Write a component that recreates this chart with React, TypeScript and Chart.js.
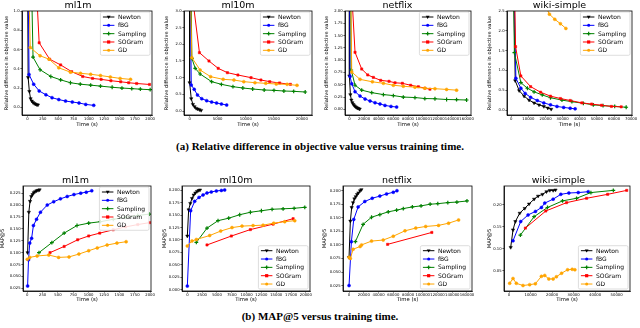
import React, { useEffect, useRef } from 'react';
import { Chart, registerables } from 'chart.js';
Chart.register(...registerables);

// ---------- series ----------
const seriesNames = ['Newton', 'fBG', 'Sampling', 'SOGram', 'GD'];
const seriesColors = ['#000000', '#0000ff', '#008000', '#ff0000', '#ffa500'];

// ---------- (a) relative difference in objective value ----------
const objMl1mNewton = [[0, 1.6], [10, 0.31], [30, 0.165], [50, 0.09], [70, 0.065], [90, 0.05], [110, 0.04], [130, 0.033], [150, 0.028], [170, 0.025]];
const objMl1mFbg = [[0, 2.0], [25, 0.34], [100, 0.24], [190, 0.17], [300, 0.13], [400, 0.1], [510, 0.08], [620, 0.065], [730, 0.055], [840, 0.045], [950, 0.03], [1080, 0.02]];
const objMl1mSampling = [[55, 1.6], [90, 0.52], [205, 0.39], [380, 0.32], [540, 0.285], [700, 0.255], [860, 0.24], [1030, 0.23], [1190, 0.22], [1380, 0.208], [1540, 0.2], [1700, 0.194], [1840, 0.188], [2000, 0.183]];
const objMl1mSogram = [[85, 2.0], [190, 0.67], [360, 0.5], [540, 0.44], [720, 0.37], [900, 0.32], [1060, 0.3], [1200, 0.29], [1360, 0.276], [1520, 0.265], [1650, 0.255], [1780, 0.247], [1990, 0.237]];
const objMl1mGd = [[10, 1.5], [45, 0.62], [205, 0.535], [350, 0.5], [510, 0.41], [700, 0.365], [865, 0.353], [1030, 0.343], [1190, 0.33], [1350, 0.315], [1510, 0.3], [1680, 0.29]];

const objMl10mNewton = [[0, 6], [0, 0.85], [290, 0.37], [585, 0.2], [880, 0.13], [1170, 0.08], [1460, 0.06], [1750, 0.04], [2050, 0.02]];
const objMl10mFbg = [[0, 6], [290, 0.78], [820, 0.65], [1400, 0.48], [2160, 0.37], [3040, 0.31], [3920, 0.27], [4800, 0.24], [5670, 0.21], [6600, 0.18]];
const objMl10mSampling = [[100, 6], [400, 1.58], [1000, 1.28], [1870, 1.11], [3920, 0.88], [5670, 0.8], [7720, 0.73], [9480, 0.69], [11230, 0.66], [13280, 0.63], [15030, 0.62], [16790, 0.6], [18540, 0.59], [20590, 0.57]];
const objMl10mSogram = [[600, 3.3], [1750, 1.75], [3450, 1.5], [5090, 1.28], [6730, 1.15], [8600, 1.08], [10940, 1.0], [12700, 0.93], [14270, 0.88], [16030, 0.84], [17960, 0.8]];
const objMl10mGd = [[150, 3.5], [400, 1.6], [1870, 1.23], [3740, 1.03], [5970, 0.95], [7900, 0.93], [9650, 0.88], [11640, 0.85], [13570, 0.83], [15440, 0.81], [17370, 0.8], [19130, 0.77]];

const objNetflixNewton = [[0, 5], [0, 0.68], [1360, 0.3], [2700, 0.19], [4090, 0.135], [5450, 0.1], [6800, 0.074], [8180, 0.054], [9500, 0.04], [10900, 0.027], [12300, 0.02], [14100, 0.007]];
const objNetflixFbg = [[0, 5], [900, 0.67], [3200, 0.52], [7700, 0.36], [14500, 0.27], [21400, 0.21], [28200, 0.17], [35000, 0.135], [41800, 0.11], [48600, 0.08], [56800, 0.06], [64500, 0.047]];
const objNetflixSampling = [[800, 5], [2500, 0.8], [7700, 0.49], [16800, 0.39], [30500, 0.34], [46400, 0.3], [60000, 0.28], [73600, 0.25], [89500, 0.24], [103000, 0.22], [116800, 0.215], [132700, 0.2], [146300, 0.196], [160000, 0.19]];
const objNetflixSogram = [[800, 3.0], [7700, 1.16], [16800, 0.82], [25000, 0.7], [32700, 0.65], [42700, 0.59], [54100, 0.57], [62300, 0.54], [72300, 0.53], [83600, 0.49], [94100, 0.46], [103200, 0.43], [110000, 0.41]];
const objNetflixGd = [[500, 4], [3200, 0.76], [14500, 0.61], [31400, 0.56], [46400, 0.53], [60000, 0.49], [73600, 0.47], [89500, 0.45], [103000, 0.43], [116800, 0.42], [132700, 0.405], [146300, 0.39]];

const objWikiNewton = [[300, 6], [2300, 0.74], [4600, 0.49], [7500, 0.35], [10400, 0.25], [13300, 0.18], [16200, 0.13], [19000, 0.09], [21300, 0.05], [23300, 0.02]];
const objWikiFbg = [[200, 6], [2700, 0.8], [5600, 0.55], [8100, 0.42], [11300, 0.32], [15200, 0.24], [19000, 0.18], [22900, 0.13], [26700, 0.09], [30600, 0.065], [34400, 0.045], [37300, 0.03]];
const objWikiSampling = [[500, 6], [1800, 1.45], [5600, 0.69], [9400, 0.55], [13300, 0.46], [18100, 0.38], [22900, 0.31], [29600, 0.25], [35400, 0.21], [42100, 0.17], [47900, 0.13], [53600, 0.11], [60400, 0.09], [67100, 0.07]];
const objWikiSogram = [[800, 6], [2500, 1.6], [5600, 0.86], [11300, 0.59], [17100, 0.45], [22900, 0.35], [28700, 0.29], [34400, 0.24], [41200, 0.18], [46900, 0.15], [52700, 0.12], [58500, 0.09], [64200, 0.08]];
const objWikiGd = [[19000, 2.7], [22300, 2.42], [25400, 2.29], [28700, 2.18], [31900, 2.06]];

// ---------- (b) MAP@5 ----------
const mapMl1mNewton = [[5, 0.1], [25, 0.185], [45, 0.208], [65, 0.218], [85, 0.222], [105, 0.226], [125, 0.228], [150, 0.23], [175, 0.231], [200, 0.232]];
const mapMl1mFbg = [[5, 0.03], [20, 0.085], [40, 0.12], [70, 0.13], [100, 0.157], [150, 0.17], [215, 0.185], [325, 0.2], [430, 0.207], [540, 0.213], [650, 0.218], [760, 0.222], [870, 0.225], [960, 0.227], [1050, 0.23]];
const mapMl1mSampling = [[190, 0.1], [400, 0.121], [600, 0.141], [810, 0.157], [1000, 0.162], [1190, 0.165], [1400, 0.17], [1600, 0.174], [1800, 0.178], [1990, 0.181]];
const mapMl1mSogram = [[370, 0.1], [600, 0.113], [820, 0.127], [1000, 0.135], [1180, 0.141], [1400, 0.148], [1600, 0.154], [1800, 0.159], [1990, 0.163]];
const mapMl1mGd = [[0, 0.086], [40, 0.09], [160, 0.093], [350, 0.095], [510, 0.09], [680, 0.091], [840, 0.097], [1000, 0.104], [1140, 0.11], [1300, 0.116], [1460, 0.12], [1610, 0.123]];

const mapMl10mNewton = [[0, 0.108], [225, 0.161], [507, 0.174], [790, 0.184], [1070, 0.191], [1350, 0.195], [1630, 0.198], [1910, 0.2], [2140, 0.201]];
const mapMl10mFbg = [[0, 0.007], [560, 0.159], [1240, 0.178], [1970, 0.186], [2650, 0.191], [3320, 0.195], [4050, 0.197], [4900, 0.199], [5740, 0.2], [6300, 0.201]];
const mapMl10mSampling = [[1520, 0.095], [3320, 0.124], [5180, 0.139], [6980, 0.144], [8840, 0.151], [10640, 0.156], [12500, 0.159], [14300, 0.162], [16160, 0.163], [18020, 0.164], [19820, 0.166]];
const mapMl10mSogram = [[3320, 0.09], [7430, 0.108], [10640, 0.121], [14470, 0.132], [17850, 0.143]];
const mapMl10mGd = [[0, 0.088], [790, 0.098], [1520, 0.101], [3770, 0.109], [5630, 0.118], [7540, 0.125], [9230, 0.128], [11090, 0.129], [12780, 0.13], [14580, 0.134], [16440, 0.137], [18130, 0.139]];

const mapNetflixNewton = [[0, 0.077], [1800, 0.144], [3600, 0.169], [5450, 0.178], [7300, 0.185], [9100, 0.189], [10900, 0.193], [12700, 0.196], [15000, 0.2], [16800, 0.202]];
const mapNetflixFbg = [[0, 0.025], [3180, 0.106], [6400, 0.147], [12300, 0.17], [21400, 0.18], [31400, 0.186], [41800, 0.19], [50900, 0.194], [60000, 0.197], [65000, 0.2]];
const mapNetflixSampling = [[8600, 0.106], [19100, 0.138], [30500, 0.151], [41800, 0.156], [53200, 0.161], [64500, 0.164], [73600, 0.167], [85900, 0.17], [97700, 0.172], [110000, 0.175], [120400, 0.176], [134000, 0.178], [146300, 0.179], [160000, 0.181]];
const mapNetflixSogram = [[52300, 0.101], [112300, 0.123]];
const mapNetflixGd = [[0, 0.077], [1800, 0.075], [5500, 0.092], [15000, 0.097], [17000, 0.1], [30500, 0.107], [46400, 0.109], [60000, 0.116], [75900, 0.126], [90500, 0.131], [104000, 0.134], [121400, 0.136], [135000, 0.14], [148600, 0.146]];

const mapWikiNewton = [[780, 0.103], [1860, 0.143], [2950, 0.162], [4970, 0.181], [7300, 0.192], [9300, 0.202], [11650, 0.213], [13500, 0.22], [15530, 0.224], [17400, 0.23], [18950, 0.233], [20500, 0.233], [21600, 0.234]];
const mapWikiFbg = [[1860, 0.118], [5430, 0.162], [8850, 0.177], [12270, 0.185], [15060, 0.194], [16600, 0.204], [20500, 0.213], [24070, 0.224], [27800, 0.227], [32150, 0.228], [36800, 0.23]];
const mapWikiSampling = [[5280, 0.131], [11650, 0.173], [17860, 0.194], [24850, 0.209], [31370, 0.215], [38050, 0.228], [48450, 0.233]];
const mapWikiSogram = [[7610, 0.147], [17080, 0.186], [26710, 0.205], [36030, 0.215], [45810, 0.224], [54670, 0.233]];
const mapWikiGd = [[300, 0.021], [1860, 0.032], [3400, 0.021], [6500, 0.016], [9600, 0.018], [12250, 0.02], [15060, 0.037], [16600, 0.039], [18480, 0.031], [20500, 0.031], [22000, 0.036], [24400, 0.044], [27200, 0.052], [29350, 0.053], [30600, 0.052]];

// ---------- tick labels ----------
const xTicksMl1m = ['0', '250', '500', '750', '1000', '1250', '1500', '1750', '2000'];
const xTicksMl10mTop = ['0', '5000', '10000', '15000', '20000'];
const xTicksMl10mBottom = ['0', '2500', '5000', '7500', '10000', '12500', '15000', '17500', '20000'];
const xTicksNetflix = ['0', '20000', '40000', '60000', '80000', '100000', '120000', '140000', '160000'];
const xTicksWikiTop = ['0', '10000', '20000', '30000', '40000', '50000', '60000', '70000'];
const xTicksWikiBottom = ['0', '10000', '20000', '30000', '40000', '50000'];
const yTicksObjMl1m = ['0.0', '0.2', '0.4', '0.6', '0.8', '1.0'];
const yTicksObjMl10m = ['0.0', '0.5', '1.0', '1.5', '2.0', '2.5', '3.0'];
const yTicksObjNetflix = ['0.00', '0.25', '0.50', '0.75', '1.00', '1.25', '1.50', '1.75', '2.00'];
const yTicksObjWiki = ['0.0', '0.5', '1.0', '1.5', '2.0', '2.5'];
const yTicksMapMl1m = ['0.025', '0.050', '0.075', '0.100', '0.125', '0.150', '0.175', '0.200', '0.225'];
const yTicksMapMl10m = ['0.000', '0.025', '0.050', '0.075', '0.100', '0.125', '0.150', '0.175', '0.200'];
const yTicksMapNetflix = ['0.025', '0.050', '0.075', '0.100', '0.125', '0.150', '0.175', '0.200'];
const yTicksMapWiki = ['0.05', '0.10', '0.15', '0.20'];

const xTitle = 'Time (s)';
const yTitleObj = 'Relative difference in objective value';
const yTitleMap = 'MAP@5';
const captionA = '(a) Relative difference in objective value versus training time.';
const captionB = '(b) MAP@5 versus training time.';

// ---------- panel layout ----------
const FONT = '"DejaVu Sans", sans-serif';
type Panel = {
  title: string; series: number[][][]; xr: number[]; yr: number[];
  xTicks: string[]; yTicks: string[]; yTitle: string; legend: 'ur' | 'lr';
  l: number; t: number; r: number; b: number; cl: number; ct: number; ch: number;
};
const panels: Panel[] = [
  { title: 'ml1m', series: [objMl1mNewton, objMl1mFbg, objMl1mSampling, objMl1mSogram, objMl1mGd], xr: [-90, 2030], yr: [-0.08, 1.0], xTicks: xTicksMl1m, yTicks: yTicksObjMl1m, yTitle: yTitleObj, legend: 'ur', l: 22, t: 11, r: 152, b: 115, cl: 4, ct: 0, ch: 128 },
  { title: 'ml10m', series: [objMl10mNewton, objMl10mFbg, objMl10mSampling, objMl10mSogram, objMl10mGd], xr: [-1000, 21800], yr: [-0.12, 3.0], xTicks: xTicksMl10mTop, yTicks: yTicksObjMl10m, yTitle: yTitleObj, legend: 'ur', l: 184, t: 11, r: 312, b: 115, cl: 164, ct: 0, ch: 128 },
  { title: 'netflix', series: [objNetflixNewton, objNetflixFbg, objNetflixSampling, objNetflixSogram, objNetflixGd], xr: [-6000, 166000], yr: [-0.115, 2.0], xTicks: xTicksNetflix, yTicks: yTicksObjNetflix, yTitle: yTitleObj, legend: 'ur', l: 345, t: 11, r: 471, b: 115, cl: 324, ct: 0, ch: 128 },
  { title: 'wiki-simple', series: [objWikiNewton, objWikiFbg, objWikiSampling, objWikiSogram, objWikiGd], xr: [-2500, 70500], yr: [-0.126, 2.5], xTicks: xTicksWikiTop, yTicks: yTicksObjWiki, yTitle: yTitleObj, legend: 'ur', l: 507, t: 11, r: 632, b: 115, cl: 487, ct: 0, ch: 128 },
  { title: 'ml1m', series: [mapMl1mNewton, mapMl1mFbg, mapMl1mSampling, mapMl1mSogram, mapMl1mGd], xr: [-70, 2015], yr: [0.0194, 0.24], xTicks: xTicksMl1m, yTicks: yTicksMapMl1m, yTitle: yTitleMap, legend: 'ur', l: 23, t: 186, r: 151, b: 291, cl: 0, ct: 175, ch: 128 },
  { title: 'ml10m', series: [mapMl10mNewton, mapMl10mFbg, mapMl10mSampling, mapMl10mSogram, mapMl10mGd], xr: [-900, 20700], yr: [-0.003, 0.209], xTicks: xTicksMl10mBottom, yTicks: yTicksMapMl10m, yTitle: yTitleMap, legend: 'lr', l: 182, t: 186, r: 310, b: 291, cl: 162, ct: 175, ch: 128 },
  { title: 'netflix', series: [mapNetflixNewton, mapNetflixFbg, mapNetflixSampling, mapNetflixSogram, mapNetflixGd], xr: [-8200, 166800], yr: [0.015, 0.2086], xTicks: xTicksNetflix, yTicks: yTicksMapNetflix, yTitle: yTitleMap, legend: 'lr', l: 343, t: 186, r: 472, b: 291, cl: 322, ct: 175, ch: 128 },
  { title: 'wiki-simple', series: [mapWikiNewton, mapWikiFbg, mapWikiSampling, mapWikiSogram, mapWikiGd], xr: [-2330, 56200], yr: [0.0035, 0.243], xTicks: xTicksWikiBottom, yTicks: yTicksMapWiki, yTitle: yTitleMap, legend: 'lr', l: 504, t: 186, r: 630, b: 291, cl: 487, ct: 175, ch: 128 },
];
const PAD_R = 6;

const pointStyles = ['triangle', 'circle', 'cross', 'rect', 'circle'];
const pointRotations = [180, 0, 0, 0, 0];
const pointRadii = [1.9, 1.5, 1.9, 1.6, 1.5];
const pointBorders = [0.5, 0.5, 1.2, 0.5, 0.5];

function drawMarker(ctx: CanvasRenderingContext2D, i: number, x: number, y: number) {
  const r = pointRadii[i];
  ctx.fillStyle = seriesColors[i];
  ctx.strokeStyle = seriesColors[i];
  ctx.beginPath();
  if (i === 0) {
    ctx.moveTo(x - r, y - r * 0.6); ctx.lineTo(x + r, y - r * 0.6); ctx.lineTo(x, y + r); ctx.closePath(); ctx.fill();
  } else if (i === 1 || i === 4) {
    ctx.arc(x, y, r, 0, Math.PI * 2); ctx.fill();
  } else if (i === 2) {
    ctx.lineWidth = 1.2; ctx.moveTo(x - r, y); ctx.lineTo(x + r, y); ctx.moveTo(x, y - r); ctx.lineTo(x, y + r); ctx.stroke();
  } else {
    ctx.rect(x - r, y - r, 2 * r, 2 * r); ctx.fill();
  }
}

const framePlugin = {
  id: 'frame',
  afterDatasetsDraw(chart: any) {
    const { ctx, chartArea: a } = chart;
    ctx.save();
    ctx.strokeStyle = '#000';
    ctx.lineWidth = 0.8;
    ctx.strokeRect(a.left, a.top, a.right - a.left, a.bottom - a.top);
    ctx.restore();
  },
};

const mplLegendPlugin = {
  id: 'mplLegend',
  afterDraw(chart: any, _args: any, opts: any) {
    const { ctx, chartArea: a } = chart;
    ctx.save();
    ctx.font = `6px ${FONT}`;
    const tw = Math.max(...seriesNames.map((n) => ctx.measureText(n).width));
    const w = 17.5 + tw + 4;
    const h = 43.3;
    const x = a.right - 2 - w;
    const y = opts.corner === 'ur' ? a.top + 1 : a.bottom - 2 - h;
    const rr = 1.5;
    ctx.beginPath();
    ctx.moveTo(x + rr, y);
    ctx.lineTo(x + w - rr, y); ctx.quadraticCurveTo(x + w, y, x + w, y + rr);
    ctx.lineTo(x + w, y + h - rr); ctx.quadraticCurveTo(x + w, y + h, x + w - rr, y + h);
    ctx.lineTo(x + rr, y + h); ctx.quadraticCurveTo(x, y + h, x, y + h - rr);
    ctx.lineTo(x, y + rr); ctx.quadraticCurveTo(x, y, x + rr, y);
    ctx.closePath();
    ctx.fillStyle = 'rgba(255,255,255,0.85)';
    ctx.fill();
    ctx.strokeStyle = '#d0d0d0';
    ctx.lineWidth = 0.7;
    ctx.stroke();
    seriesNames.forEach((name, i) => {
      const cy = y + 5 + i * 8.33;
      ctx.strokeStyle = seriesColors[i];
      ctx.lineWidth = 1;
      ctx.beginPath();
      ctx.moveTo(x + 2.5, cy); ctx.lineTo(x + 14, cy); ctx.stroke();
      drawMarker(ctx, i, x + 8.25, cy);
      ctx.fillStyle = '#000';
      ctx.textAlign = 'left';
      ctx.textBaseline = 'middle';
      ctx.fillText(name, x + 17.5, cy + 0.3);
    });
    ctx.restore();
  },
};

function PanelChart({ p }: { p: Panel }) {
  const ref = useRef<HTMLCanvasElement>(null);
  const width = p.r + PAD_R - p.cl;
  useEffect(() => {
    const canvas = ref.current!;
    const yAxisW = p.l - p.cl;
    const xAxisH = p.ct + p.ch - p.b;
    const datasets = p.series.map((pts, i) => ({
      label: seriesNames[i],
      data: pts.map(([x, y]) => ({ x, y })),
      borderColor: seriesColors[i],
      backgroundColor: seriesColors[i],
      borderWidth: 1,
      pointStyle: pointStyles[i] as any,
      pointRotation: pointRotations[i],
      pointRadius: pointRadii[i],
      pointBorderWidth: pointBorders[i],
      pointHoverRadius: pointRadii[i],
      tension: 0,
      clip: 0,
      fill: false,
      order: 5 - i,
    }));
    const tickFont = { size: 3.8, family: FONT };
    const chart = new Chart(canvas, {
      type: 'line',
      data: { datasets },
      plugins: [framePlugin, mplLegendPlugin],
      options: {
        animation: false,
        responsive: false,
        devicePixelRatio: 1,
        events: [],
        layout: { padding: { left: 0, top: 0, right: PAD_R, bottom: 0 } },
        plugins: {
          legend: { display: false },
          tooltip: { enabled: false },
          title: { display: true, text: p.title, color: '#000', font: { size: 9.5, family: FONT, weight: 'normal', lineHeight: '11px' }, padding: 0 },
          mplLegend: { corner: p.legend },
        } as any,
        scales: {
          x: {
            type: 'linear',
            min: p.xr[0],
            max: p.xr[1],
            afterBuildTicks: (s: any) => { s.ticks = p.xTicks.map((v) => ({ value: parseFloat(v) })); },
            afterFit: (s: any) => { s.height = xAxisH; s.paddingLeft = 0; s.paddingRight = 0; },
            ticks: { font: tickFont, color: '#000', padding: 0.6, autoSkip: false, maxRotation: 0, minRotation: 0, callback: (_v: any, i: number) => p.xTicks[i] },
            grid: { display: true, drawOnChartArea: false, drawTicks: true, tickLength: 1.6, color: '#000', lineWidth: 0.6 },
            border: { display: true, color: '#000', width: 0.8 },
            title: { display: true, text: xTitle, color: '#000', font: { size: 5.3, family: FONT, lineHeight: 1.2 }, padding: 0 },
          },
          y: {
            type: 'linear',
            min: p.yr[0],
            max: p.yr[1],
            afterBuildTicks: (s: any) => { s.ticks = p.yTicks.map((v) => ({ value: parseFloat(v) })); },
            afterFit: (s: any) => { s.width = yAxisW; s.paddingTop = 0; s.paddingBottom = 0; },
            ticks: { font: tickFont, color: '#000', padding: 0.8, autoSkip: false, callback: (_v: any, i: number) => p.yTicks[i] },
            grid: { display: true, drawOnChartArea: false, drawTicks: true, tickLength: 1.6, color: '#000', lineWidth: 0.6 },
            border: { display: true, color: '#000', width: 0.8 },
            title: { display: true, text: p.yTitle, color: '#000', font: { size: 5.1, family: FONT, lineHeight: 1.2 }, padding: 0 },
          },
        },
      } as any,
    });
    return () => chart.destroy();
  }, [p]);
  return (
    <canvas
      ref={ref}
      width={width}
      height={p.ch}
      style={{ position: 'absolute', left: p.cl, top: p.ct, width, height: p.ch }}
    />
  );
}

export default function App() {
  useEffect(() => {
    document.body.style.margin = '0';
  }, []);
  const capStyle: React.CSSProperties = {
    position: 'absolute', left: 0, width: 640, textAlign: 'center',
    fontFamily: '"Liberation Serif", serif', fontWeight: 'bold', fontSize: 11, lineHeight: '11px', color: '#000', whiteSpace: 'nowrap',
  };
  return (
    <div style={{ position: 'absolute', left: 0, top: 0, width: 640, height: 328, background: '#fff', overflow: 'hidden' }}>
      {panels.map((p, i) => <PanelChart key={i} p={p} />)}
      <div style={{ ...capStyle, top: 140.5 }}>{captionA}</div>
      <div style={{ ...capStyle, top: 311 }}>{captionB}</div>
    </div>
  );
}
